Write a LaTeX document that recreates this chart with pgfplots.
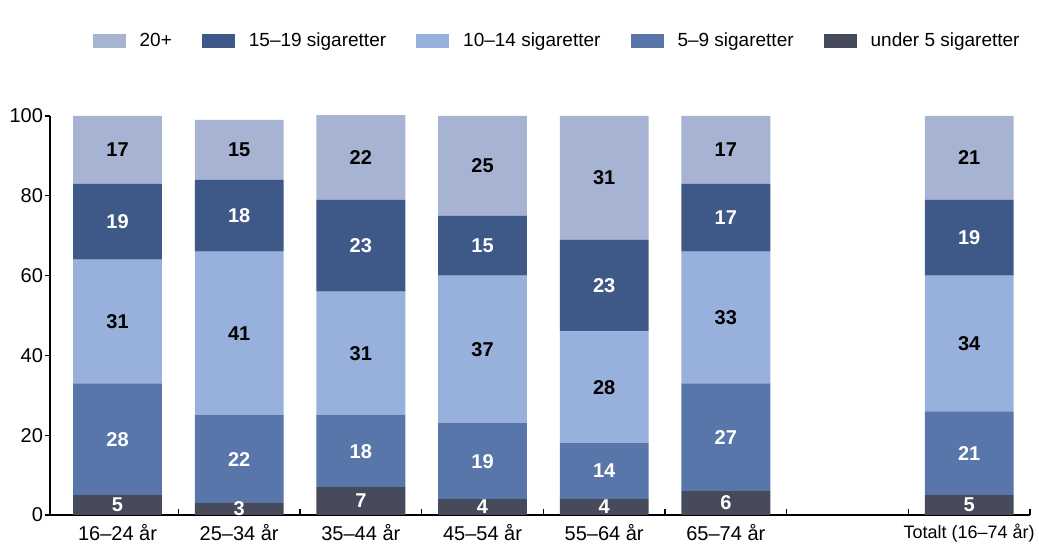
\documentclass[border=0pt]{standalone}
\usepackage{pgfplots}
\pgfplotsset{compat=1.18}
\usepackage{fontspec}
\setmainfont{Liberation Sans}
\usetikzlibrary{calc}
\definecolor{cA}{RGB}{166,179,211}
\definecolor{cB}{RGB}{62,88,136}
\definecolor{cC}{RGB}{152,176,220}
\definecolor{cD}{RGB}{88,118,170}
\definecolor{cE}{RGB}{70,74,90}
\begin{document}
\begin{tikzpicture}
\pgfplotsset{
  common/.style={
    scale only axis, width=490pt, height=199.5pt,
    xmin=-0.555, xmax=7.5, ymin=0, ymax=100,
    /pgf/number format/assume math mode=true,
  },
  lg/.style={legend image code/.code={\fill[##1,draw=none] (0pt,-3.5pt) rectangle (16.5pt,3.5pt);}},
  lbl/.style={draw=none, mark=none, nodes near coords, point meta=explicit symbolic,
    every node near coord/.append style={anchor=center, font=\fontsize{10}{12}\selectfont\bfseries, text=#1}},
}
\begin{axis}[common, name=ax,
  ybar stacked, bar width=0.73,
  axis x line*=bottom, axis y line*=left,
  ytick={0,20,...,100},
  xtick={0,1,2,3,4,5,6,7},
  xticklabels={16--24 år,25--34 år,35--44 år,45--54 år,55--64 år,65--74 år,{},{\fontsize{9}{11}\selectfont Totalt (16--74 år)}},
  minor xtick={0.5,1.5,...,7.5},
  tick align=inside,
  every major x tick/.append style={draw=none},
  every major y tick/.append style={xshift=-2.5pt},
  minor tick length=3pt,
  major tick length=2.5pt,
  tick style={black, line width=0.6pt},
  axis line style={line width=0.8pt},
  tick label style={font=\fontsize{10}{12}\selectfont},
  x tick label style={yshift=-1pt},
  reverse legend,
  legend columns=5,
  legend style={at={(1,1)}, anchor=east, yshift=37.5pt, draw=none, fill=none,
    font=\fontsize{9.5}{11}\selectfont,
    /tikz/every even column/.append style={column sep=13pt},
    /tikz/every odd column/.append style={column sep=5pt}},
]
\addplot[fill=cE, draw=none, lg] coordinates {(0,5)(1,3)(2,7)(3,4)(4,4)(5,6)(7,5)};
\addplot[fill=cD, draw=none, lg] coordinates {(0,28)(1,22)(2,18)(3,19)(4,14)(5,27)(7,21)};
\addplot[fill=cC, draw=none, lg] coordinates {(0,31)(1,41)(2,31)(3,37)(4,28)(5,33)(7,34)};
\addplot[fill=cB, draw=none, lg] coordinates {(0,19)(1,18)(2,23)(3,15)(4,23)(5,17)(7,19)};
\addplot[fill=cA, draw=none, lg] coordinates {(0,17)(1,15)(2,22)(3,25)(4,31)(5,17)(7,21)};
\legend{under 5 sigaretter,5--9 sigaretter,10--14 sigaretter,15--19 sigaretter,20+}
\end{axis}
\begin{axis}[common, hide axis]
\addplot[lbl=white] coordinates {(0,2.5)[5] (1,1.5)[3] (2,3.5)[7] (3,2)[4] (4,2)[4] (5,3)[6] (7,2.5)[5]};
\addplot[lbl=white] coordinates {(0,19)[28] (1,14)[22] (2,16)[18] (3,13.5)[19] (4,11)[14] (5,19.5)[27] (7,15.5)[21]};
\addplot[lbl=black] coordinates {(0,48.5)[31] (1,45.5)[41] (2,40.5)[31] (3,41.5)[37] (4,32)[28] (5,49.5)[33] (7,43)[34]};
\addplot[lbl=white] coordinates {(0,73.5)[19] (1,75)[18] (2,67.5)[23] (3,67.5)[15] (4,57.5)[23] (5,74.5)[17] (7,69.5)[19]};
\addplot[lbl=black] coordinates {(0,91.5)[17] (1,91.5)[15] (2,89.5)[22] (3,87.5)[25] (4,84.5)[31] (5,91.5)[17] (7,89.5)[21]};
\end{axis}
\pgfresetboundingbox
\useasboundingbox ($(ax.south west)+(-25pt,-14.5pt)$) rectangle ($(ax.north east)+(4.5pt,58pt)$);
\end{tikzpicture}
\end{document}
